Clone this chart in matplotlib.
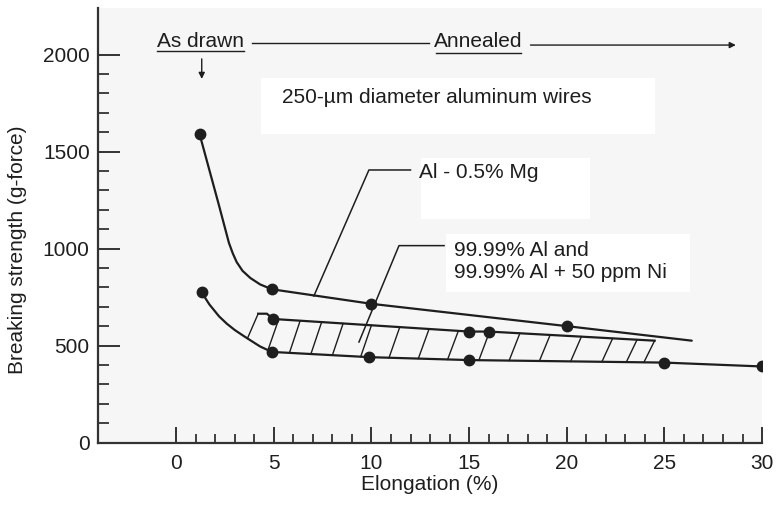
import numpy as np
import matplotlib
matplotlib.use('Agg')
import matplotlib.pyplot as plt
from matplotlib.patches import Rectangle
from matplotlib.ticker import FixedLocator

plt.rcParams['font.family'] = ['Liberation Sans', 'DejaVu Sans']

# Al - 0.5% Mg curve (traced line) and measured points
mg_line_x = [1.2, 2.2, 2.7, 2.9, 3.1, 3.4, 3.8, 4.3, 4.9, 10.0, 20.0, 26.4]
mg_line_y = [1590, 1220, 1030, 975, 930, 885, 848, 815, 790, 715, 600, 525]
mg_pts_x = [1.2, 4.9, 10.0, 20.0]
mg_pts_y = [1590, 790, 715, 600]

# 99.99% Al band: lower edge (99.99% Al) and upper edge (+ 50 ppm Ni)
low_line_x = [1.3, 1.7, 2.2, 2.6, 3.0, 3.4, 3.8, 4.3, 4.9, 9.9, 15.0, 25.0, 30.0]
low_line_y = [775, 712, 650, 612, 580, 553, 527, 495, 467, 440, 425, 412, 392]
low_pts_x = [1.3, 4.9, 9.9, 15.0, 25.0, 30.0]
low_pts_y = [775, 467, 440, 425, 412, 392]

top_line_x = [4.2, 4.65, 4.95, 15.0, 16.0, 24.5]
top_line_y = [664, 664, 637, 572, 572, 525]
top_pts_x = [4.95, 15.0, 16.0]
top_pts_y = [637, 572, 572]

# where the hatch strokes start on the lower edge
hatch_x = [3.65, 4.7, 5.8, 6.9, 8.0, 9.45, 10.9, 12.4, 13.9, 15.5,
           17.05, 18.6, 20.2, 21.8, 23.05, 23.95]
hatch_slant = 0.55

ink = '#1e1e1e'

fig = plt.figure(figsize=(7.78, 5.07), dpi=100)
ax = fig.add_axes([0.126, 0.1272, 0.8535, 0.857])
ax.set_facecolor('#f6f6f6')
ax.set_xlim(-4, 30)
ax.set_ylim(0, 2240)

# white panels behind the labels
for x0, x1, y0, y1 in [(4.33, 24.5, 1591, 1879), (12.53, 21.2, 1154, 1469),
                       (13.81, 26.3, 774, 1077)]:
    ax.add_patch(Rectangle((x0, y0), x1 - x0, y1 - y0, fc='white', ec='none', zorder=0.5))

ax.plot(mg_line_x, mg_line_y, color=ink, lw=1.6, solid_capstyle='round')
ax.plot(low_line_x, low_line_y, color=ink, lw=1.6)
ax.plot(top_line_x, top_line_y, color=ink, lw=1.6)

for xb in hatch_x:
    xt = xb + hatch_slant
    yb = np.interp(xb, low_line_x, low_line_y)
    yt = np.interp(xt, top_line_x, top_line_y)
    ax.plot([xb, xt], [yb, yt], color=ink, lw=1.0)

ax.plot(mg_pts_x, mg_pts_y, 'o', ms=7.5, color=ink)
ax.plot(low_pts_x, low_pts_y, 'o', ms=7.5, color=ink)
ax.plot(top_pts_x, top_pts_y, 'o', ms=7.5, color=ink)

# leader lines to the labels
ax.plot([7.05, 9.87, 12.0], [755, 1405, 1405], color=ink, lw=1.1)
ax.plot([9.36, 11.41, 13.72], [518, 1015, 1015], color=ink, lw=1.1)

ax.text(12.44, 1390, 'Al - 0.5% Mg', fontsize=15, va='center', color=ink)
ax.text(14.24, 932, '99.99% Al and\n99.99% Al + 50 ppm Ni', fontsize=15,
        va='center', linespacing=1.2, color=ink)
ax.text(5.42, 1778, '250-\u00b5m diameter aluminum wires', fontsize=15,
        va='center', color=ink)

# as drawn / annealed header
ax.text(1.23, 2069, 'As drawn', fontsize=15, ha='center', va='center', color=ink)
ax.plot([-1.0, 3.45], [2018, 2018], color=ink, lw=1.0)
ax.annotate('', xy=(1.31, 1860), xytext=(1.31, 1992),
            arrowprops=dict(arrowstyle='-|>', color=ink, lw=1.0, mutation_scale=9))
ax.plot([3.88, 12.95], [2059, 2059], color=ink, lw=1.0)
ax.text(15.47, 2069, 'Annealed', fontsize=15, ha='center', va='center', color=ink)
ax.plot([13.3, 17.66], [2009, 2009], color=ink, lw=1.0)
ax.annotate('', xy=(28.8, 2049), xytext=(18.0, 2049),
            arrowprops=dict(arrowstyle='-|>', color=ink, lw=1.0, mutation_scale=9))

for side in ['top', 'right']:
    ax.spines[side].set_visible(False)
for side in ['left', 'bottom']:
    ax.spines[side].set_linewidth(1.6)
    ax.spines[side].set_color('#333333')

ax.set_xticks([0, 5, 10, 15, 20, 25, 30])
ax.xaxis.set_minor_locator(FixedLocator([i for i in range(1, 30) if i % 5]))
ax.set_yticks([0, 500, 1000, 1500, 2000])
ax.yaxis.set_minor_locator(FixedLocator([i * 100 for i in range(1, 20) if i % 5]))

ax.tick_params(axis='x', which='major', direction='in', length=11.5, width=1.4,
               pad=8, labelsize=15, color='#333333', labelcolor=ink)
ax.tick_params(axis='x', which='minor', direction='in', length=6.5, width=1.3, color='#333333')
ax.tick_params(axis='y', which='major', direction='in', length=16, width=1.4,
               pad=6, labelsize=15, color='#333333', labelcolor=ink)
ax.tick_params(axis='y', which='minor', direction='in', length=8, width=1.3, color='#333333')

ax.set_xlabel('Elongation (%)', fontsize=15, color=ink, labelpad=2)
ax.set_ylabel('Breaking strength (g-force)', fontsize=15, color=ink)
ax.yaxis.set_label_coords(-0.107, 0.443)

fig.savefig('out.png', dpi=100, facecolor='white')
